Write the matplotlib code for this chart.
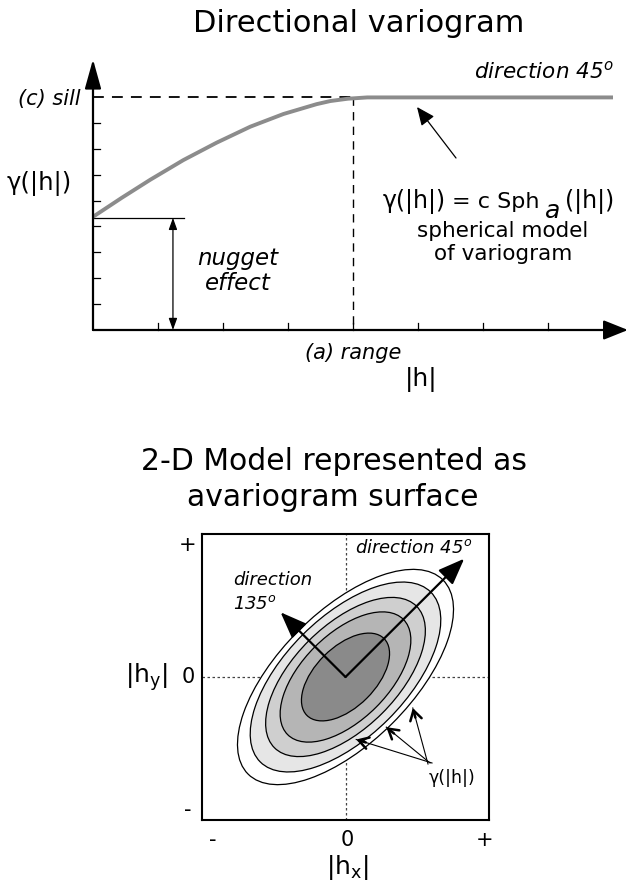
import numpy as np
import matplotlib
matplotlib.use('Agg')
import matplotlib.pyplot as plt
import matplotlib.transforms as mtransforms
from matplotlib.patches import Ellipse

plt.rcParams['font.family'] = ['DejaVu Sans']
plt.rcParams['mathtext.fontset'] = 'dejavusans'

# directional variogram
lag = [0, 0.44, 0.88, 1.39, 1.9, 2.42, 2.93, 3.44, 3.65, 3.92, 4.22, 8.0]
gamma = [4.37, 5.10, 5.80, 6.56, 7.23, 7.85, 8.34, 8.72, 8.84, 8.93, 8.98, 8.98]
sill = 8.98
vrange = 4.0
nugget = 4.33
xticks = [1, 2, 3, 4, 5, 6, 7]
yticks = [1, 2, 3, 4, 5, 6, 7, 8]

# 2-D surface: contour ellipses (semi axes along 45 and 135 deg), outer to inner
major = [0.96, 0.84, 0.70, 0.57, 0.38]
minor = [0.46, 0.42, 0.36, 0.30, 0.21]
shades = ['#ffffff', '#e6e6e6', '#cfcfcf', '#b5b5b5', '#8a8a8a']
arrow_len = {45: 1.17, 135: 0.64}

W, H = 628, 884
fig = plt.figure(figsize=(W / 100, H / 100), dpi=100)
# pixel coordinates measured from the top-left corner
px = mtransforms.Affine2D().scale(1 / W, -1 / H).translate(0, 1) + fig.transFigure

# ---------------- top: directional variogram ----------------
ax = fig.add_axes([0, 1 - 400 / H, 1, 360 / H])
ax.set_xlim(-93 / 65, (628 - 93) / 65)
ax.set_ylim((330 - 400) / 25.9, (330 - 40) / 25.9)
ax.axis('off')

ax.annotate('', xy=(8.23, 0), xytext=(0, 0),
            arrowprops=dict(arrowstyle='-|>,head_length=0.75,head_width=0.3',
                            lw=1.6, color='k', shrinkA=0, shrinkB=0, mutation_scale=20))
ax.annotate('', xy=(0, 10.45), xytext=(0, 0),
            arrowprops=dict(arrowstyle='-|>,head_length=0.9,head_width=0.25',
                            lw=1.6, color='k', shrinkA=0, shrinkB=0, mutation_scale=20))
for t in xticks:
    ax.plot([t, t], [0, 0.27], color='k', lw=0.9)
for t in yticks:
    ax.plot([0, 0.1], [t, t], color='k', lw=0.9)

ax.plot([0, vrange], [sill, sill], color='k', lw=1.3, dashes=(6, 4.5))
ax.plot([vrange, vrange], [sill, 0], color='k', lw=1.0, dashes=(6, 4.5))
ax.plot([0, 1.4], [nugget, nugget], color='k', lw=0.9)
ax.annotate('', xy=(1.23, 0), xytext=(1.23, nugget),
            arrowprops=dict(arrowstyle='<|-|>,head_length=0.5,head_width=0.18',
                            lw=0.9, color='k', shrinkA=0, shrinkB=0, mutation_scale=14))

ax.plot(lag, gamma, color='#8c8c8c', lw=2.8, solid_capstyle='butt',
        solid_joinstyle='round')

ax.annotate('', xy=(417, 107), xytext=(456, 158), xycoords=px, textcoords=px,
            arrowprops=dict(arrowstyle='-|>,head_length=0.8,head_width=0.35',
                            lw=0.9, color='k', shrinkA=0, shrinkB=0, mutation_scale=14))

fig.text(359, 24, 'Directional variogram', transform=px, fontsize=22,
         ha='center', va='center')
fig.text(80, 99, '(c) sill', transform=px, fontsize=15, style='italic',
         ha='right', va='center')
fig.text(39, 184, 'γ(|h|)', transform=px, fontsize=17.5, ha='center', va='center')
fig.text(238, 258, 'nugget', transform=px, fontsize=16.5, style='italic',
         ha='center', va='center')
fig.text(238, 283, 'effect', transform=px, fontsize=16.5, style='italic',
         ha='center', va='center')
fig.text(614, 71, r'direction 45$^{o}$', transform=px, fontsize=15.5,
         style='italic', ha='right', va='center')
fig.text(383, 202, 'γ(|h|)', transform=px, fontsize=17, ha='left', va='center')
fig.text(540, 202, '= c Sph', transform=px, fontsize=16, ha='right', va='center')
fig.text(553, 211, 'a', transform=px, fontsize=18, style='italic',
         ha='center', va='center')
fig.text(614, 202, '(|h|)', transform=px, fontsize=17, ha='right', va='center')
fig.text(503, 231, 'spherical model', transform=px, fontsize=15.5,
         ha='center', va='center')
fig.text(503, 254, 'of variogram', transform=px, fontsize=15.5,
         ha='center', va='center')
fig.text(353, 353, '(a) range', transform=px, fontsize=15, style='italic',
         ha='center', va='center')
fig.text(421, 379, '|h|', transform=px, fontsize=18, ha='center', va='center')

# ---------------- bottom: variogram surface ----------------
fig.text(334, 462, '2-D Model represented as', transform=px, fontsize=21.5,
         ha='center', va='center')
fig.text(333, 497, 'avariogram surface', transform=px, fontsize=21.5,
         ha='center', va='center')

ax2 = fig.add_axes([202 / W, 1 - 820 / H, 287 / W, 286 / H])
ax2.set_xlim(-1, 1)
ax2.set_ylim(-1, 1)
ax2.set_xticks([])
ax2.set_yticks([])
for s in ax2.spines.values():
    s.set_linewidth(1.5)

for a, b, c in zip(major, minor, shades):
    ax2.add_patch(Ellipse((0, 0), 2 * a, 2 * b, angle=45, facecolor=c,
                          edgecolor='k', lw=0.9, zorder=2))
ax2.axvline(0, color='#444444', lw=0.9, dashes=(2, 2), zorder=1)
ax2.axhline(0, color='#444444', lw=0.9, dashes=(2, 2), zorder=1)

for ang, ln in arrow_len.items():
    r = np.deg2rad(ang)
    ax2.annotate('', xy=(ln * np.cos(r), ln * np.sin(r)), xytext=(0, 0),
                 arrowprops=dict(arrowstyle='-|>,head_length=0.9,head_width=0.35',
                                 lw=1.6, color='k', shrinkA=0, shrinkB=0,
                                 mutation_scale=18), zorder=4)

# pointers from the label to the three outer contours
to_data = ax2.transData.inverted()
for i, t, start in [(0, -80, (428, 764)), (1, -93, (430, 763)), (2, -110, (432, 763))]:
    tr = np.deg2rad(t)
    u = major[i] * np.cos(tr) * 1.07
    v = minor[i] * np.sin(tr) * 1.07
    tip = np.array([(u - v) / np.sqrt(2), (u + v) / np.sqrt(2)])
    s0 = np.array(to_data.transform(px.transform(start)))
    ax2.plot([s0[0], tip[0]], [s0[1], tip[1]], color='k', lw=0.8, zorder=4)
    # short thick piece near the tip carries a bold open head
    d = (tip - s0) / np.hypot(*(tip - s0))
    ax2.annotate('', xy=tip, xytext=tip - 0.07 * d,
                 arrowprops=dict(arrowstyle='->,head_length=0.5,head_width=0.3',
                                 lw=1.8, color='k', shrinkA=0, shrinkB=0,
                                 mutation_scale=14), zorder=4)

fig.text(452, 778, 'γ(|h|)', transform=px, fontsize=12.5, ha='center', va='center')
fig.text(355, 548, r'direction 45$^{o}$', transform=px, fontsize=13,
         style='italic', ha='left', va='center')
fig.text(233, 580, 'direction', transform=px, fontsize=13, style='italic',
         ha='left', va='center')
fig.text(233, 604, r'135$^{o}$', transform=px, fontsize=13, style='italic',
         ha='left', va='center')

for y, lab in [(545, '+'), (677, '0'), (810, '-')]:
    fig.text(188, y, lab, transform=px, fontsize=15, ha='center', va='center')
for x, lab in [(213, '-'), (347, '0'), (485, '+')]:
    fig.text(x, 840, lab, transform=px, fontsize=15, ha='center', va='center')
fig.text(146, 677, r'$|\mathrm{h}_{\mathrm{y}}|$', transform=px, fontsize=18,
         ha='center', va='center')
fig.text(347, 868, r'$|\mathrm{h}_{\mathrm{x}}|$', transform=px, fontsize=18,
         ha='center', va='center')

fig.savefig('out.png', dpi=100, facecolor='white')
